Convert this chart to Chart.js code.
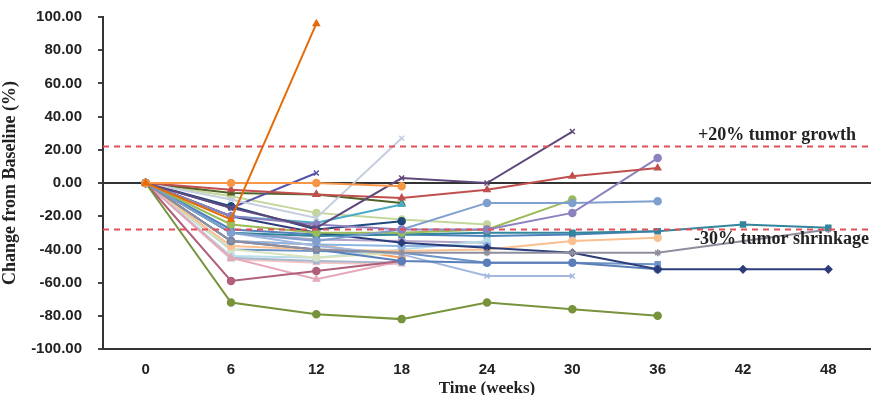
<!DOCTYPE html>
<html>
<head>
<meta charset="utf-8">
<script src="https://cdn.jsdelivr.net/npm/chart.js@4.4.0/dist/chart.umd.min.js"></script>
<style>
  html, body { margin: 0; padding: 0; background: #fff; }
  #box { width: 871px; height: 395px; }
</style>
</head>
<body>
<div id="box"><canvas id="spider-chart"></canvas></div>
<script>
const weeks = ['0', '6', '12', '18', '24', '30', '36', '42', '48'];
const growthLimit = 22;
const shrinkLimit = -28;

// one array per patient, values at weeks 0,6,12,...
const p01 = [0, -22, 96];
const p02 = [0, 0, 0, -2];
const p03 = [0, -15, -27, 3, 0, 31];
const p04 = [0, -4, -7, -9, -4, 4, 9];
const p05 = [0, -20, -25, -28, -28, -18, 15];
const p06 = [0, -30, -35, -28, -12, -12, -11];
const p07 = [0, -25, -30, -30, -28, -10];
const p08 = [0, -30, -32, -31, -30, -30, -29, -25, -27];
const p09 = [0, -35, -40, -42, -42, -42, -42, null, -28];
const p10 = [0, -20, -30, -36, -39, -42, -52, -52, -52];
const p11 = [0, -35, -40, -47, -48, -48, -52];
const p12 = [0, -30, -38, -43, -56, -56];
const p13 = [0, -72, -79, -82, -72, -76, -80];
const p14 = [0, -59, -53, -47];
const p15 = [0, -45, -58, -47];
const p16 = [0, -10, -21, 27];
const p17 = [0, -15, 6];
const p18 = [0, -14, -28, -23];
const p19 = [0, -20, -24, -13];
const p20 = [0, -6, -7, -12];
const p21 = [0, -8, -18, -22, -25];
const p22 = [0, -35, -37, -38, -38];
const p23 = [0, -38, -40, -41, -40, -35, -33];
const p24 = [0, -40, -45, -42];
const p25 = [0, -44, -45, -40, -35];
const p26 = [0, -35, -37, -45];
const p27 = [0, -28, -31, -31, -32, -31, -29];
const p28 = [0, -40, -41, -42, -48, -48, -49];
const p29 = [0, -30, -34, -35, -36];
const p30 = [0, -45, -47, -48];
const p31 = [0, -46, -48, -49];

const patients = [p01, p02, p03, p04, p05, p06, p07, p08, p09, p10, p11, p12, p13, p14, p15, p16,
                  p17, p18, p19, p20, p21, p22, p23, p24, p25, p26, p27, p28, p29, p30, p31];
const colors = ['#E46C0A', '#F79646', '#5F497A', '#C0504D', '#8C82C0', '#7F9FCF', '#9BBB59', '#31859C',
                '#8E8E9E', '#2C3D7A', '#5B7FB8', '#A3B8E0', '#77933C', '#B0607A', '#E6A8B8', '#C4CEDF',
                '#5555A8', '#1F497D', '#4BACC6', '#4F6228', '#C3D69B', '#8DB4E2', '#FAC090', '#D7E4BD',
                '#B7DEE8', '#F7A15A', '#4F81BD', '#6E93C6', '#B3A2C7', '#A8B8CC', '#F2C4C4'];
const markers = ['triangle', 'circle', 'crossRot', 'triangle', 'circle', 'circle', 'circle', 'rect',
                 'star', 'rectRot', 'circle', 'crossRot', 'circle', 'circle', 'triangle', 'crossRot',
                 'crossRot', 'circle', 'triangle', 'triangle', 'circle', 'circle', 'circle', 'rect',
                 'circle', 'circle', 'rect', 'rect', 'circle', 'rect', 'triangle'];

const refLines = {
    id: 'refLines',
    afterDatasetsDraw(chart) {
        const { ctx, chartArea, scales } = chart;
        ctx.save();
        ctx.strokeStyle = '#E0505A';
        ctx.lineWidth = 2;
        ctx.setLineDash([6, 5]);
        [growthLimit, shrinkLimit].forEach(v => {
            const y = scales.y.getPixelForValue(v);
            ctx.beginPath();
            ctx.moveTo(chartArea.left, y);
            ctx.lineTo(chartArea.right, y);
            ctx.stroke();
        });
        ctx.setLineDash([]);
        ctx.fillStyle = '#222';
        ctx.font = 'bold 18px "Liberation Serif"';
        ctx.textAlign = 'right';
        ctx.textBaseline = 'middle';
        ctx.fillText('+20% tumor growth', 856, scales.y.getPixelForValue(growthLimit) - 11);
        ctx.fillText('-30% tumor shrinkage', 869, scales.y.getPixelForValue(shrinkLimit) + 10);
        ctx.restore();
    }
};

document.addEventListener('DOMContentLoaded', function() {
    const ctx = document.getElementById('spider-chart').getContext('2d');
    new Chart(ctx, {
        type: 'line',
        data: {
            labels: weeks,
            datasets: patients.map((d, i) => ({
                data: d,
                borderColor: colors[i],
                backgroundColor: colors[i],
                borderWidth: 2,
                pointStyle: markers[i],
                pointRadius: 3.5,
                pointBorderWidth: 1.5,
                spanGaps: true,
                tension: 0
            }))
        },
        options: {
            responsive: true,
            maintainAspectRatio: false,
            animation: false,
            layout: { autoPadding: false, padding: { top: 17, right: 0, left: 0, bottom: 0 } },
            plugins: {
                legend: { display: false },
                tooltip: { enabled: false }
            },
            scales: {
                x: {
                    offset: true,
                    grid: { display: false },
                    border: { color: '#333', width: 2 },
                    ticks: {
                        color: '#222',
                        padding: 4,
                        font: { family: 'Liberation Sans', weight: 'bold', size: 15 }
                    },
                    title: {
                        display: true,
                        text: 'Time (weeks)',
                        color: '#222',
                        padding: { top: 0, bottom: -4 },
                        font: { family: 'Liberation Serif', weight: 'bold', size: 17 }
                    },
                    afterFit: s => { s.height = 46; }
                },
                y: {
                    min: -100,
                    max: 100,
                    ticks: {
                        stepSize: 20,
                        color: '#222',
                        padding: 16,
                        font: { family: 'Liberation Sans', weight: 'bold', size: 15 },
                        callback: v => v.toFixed(2)
                    },
                    grid: {
                        color: c => c.tick && c.tick.value === 0 ? '#333' : 'rgba(0,0,0,0)',
                        lineWidth: 2,
                        tickColor: '#444',
                        tickLength: 5
                    },
                    border: { color: '#333', width: 2 },
                    title: {
                        display: true,
                        text: 'Change from Baseline (%)',
                        color: '#222',
                        padding: { top: 0, bottom: 0 },
                        font: { family: 'Liberation Serif', weight: 'bold', size: 18 }
                    },
                    afterFit: s => {
                        s.width = 103;
                        s.paddingTop = 0;
                        s.paddingBottom = 0;
                    }
                }
            }
        },
        plugins: [refLines]
    });
});
</script>
</body>
</html>
